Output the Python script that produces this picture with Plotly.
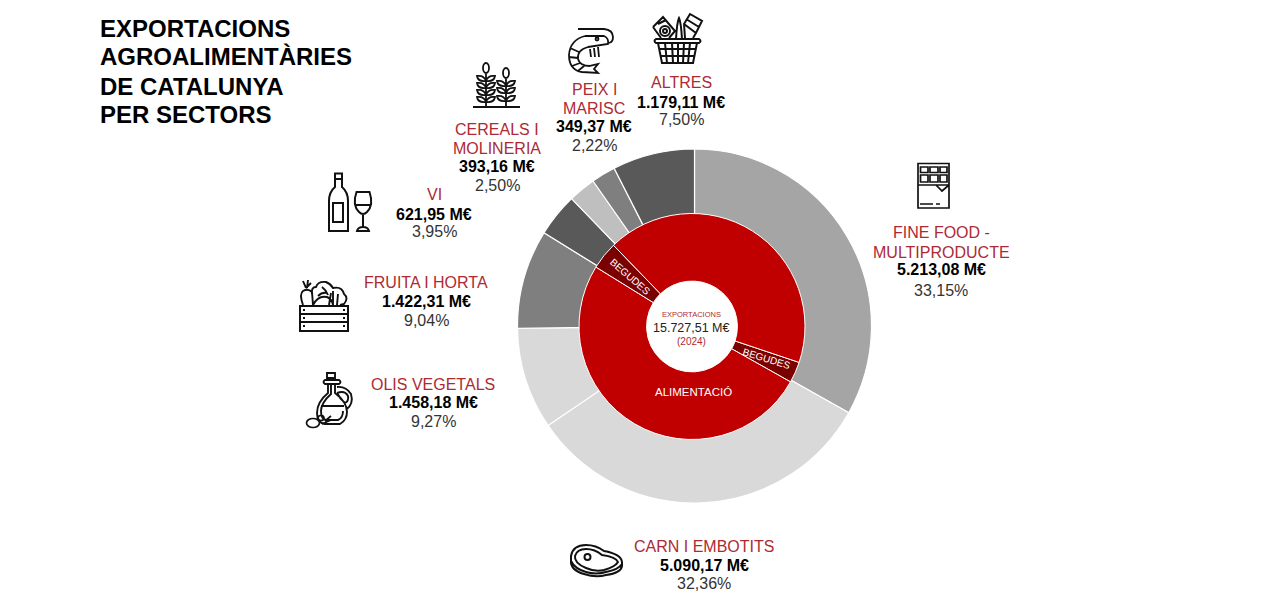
import re
import plotly.graph_objects as go

W, H = 1280, 595

# ---------- data ----------
sector_names = ["FINE FOOD - MULTIPRODUCTE", "CARN I EMBOTITS", "OLIS VEGETALS", "FRUITA I HORTA",
                "VI", "CEREALS I MOLINERIA", "PEIX I MARISC", "ALTRES"]
sector_values = [5213.08, 5090.17, 1458.18, 1422.31, 621.95, 393.16, 349.37, 1179.11]
sector_colors = ["#A5A5A5", "#D9D9D9", "#D9D9D9", "#7F7F7F", "#595959", "#BFBFBF", "#7F7F7F", "#595959"]

group_names = ["BEGUDES", "ALIMENTACIÓ", "BEGUDES", "ALIMENTACIÓ"]
group_values = [472, 7969, 622, 6665]
group_colors = ["#7B0000", "#C00000", "#7B0000", "#C00000"]
group_start_share = 0.3015

title_lines = ["EXPORTACIONS", "AGROALIMENTÀRIES", "DE CATALUNYA", "PER SECTORS"]

RED = "#AE2A33"
FONT = "Liberation Sans, Arial, sans-serif"


def px(x):
    return x / W


def py(y):
    return 1 - y / H


def domain(cx, cy, r):
    return dict(x=[px(cx - r), px(cx + r)], y=[py(cy + r), py(cy - r)])


fig = go.Figure()
fig.add_trace(go.Pie(
    labels=sector_names, values=sector_values, sort=False, direction="clockwise", rotation=0,
    hole=0.6, domain=domain(694.5, 326, 177), textinfo="none", showlegend=False,
    marker=dict(colors=sector_colors, line=dict(color="#FFFFFF", width=1.2)),
))
fig.add_trace(go.Pie(
    labels=[f"{n} {i}" for i, n in enumerate(group_names)], values=group_values, sort=False,
    direction="clockwise", rotation=group_start_share * 360, hole=0.402, domain=domain(692, 326.5, 113),
    textinfo="none", showlegend=False, text=group_names, hovertemplate="%{text}: %{value}<extra></extra>",
    marker=dict(colors=group_colors, line=dict(color="#FFFFFF", width=1)),
))

ann = []


def txt(x, y, s, size=16, color="#222222", bold=False, anchor="center", angle=0):
    ann.append(dict(xref="paper", yref="paper", x=px(x), y=py(y), text=f"<b>{s}</b>" if bold else s,
                    showarrow=False, xanchor=anchor, yanchor="middle", textangle=angle,
                    font=dict(family=FONT, size=size, color=color)))


for i, line in enumerate(title_lines):
    txt(98, 28 + i * 29, line, size=24, color="#000000", bold=True, anchor="left")

label_blocks = [
    (941, [233, 252, 270, 290], ["FINE FOOD -", "MULTIPRODUCTE"], "5.213,08 M€", "33,15%"),
    (704, [546, 565, 583], ["CARN I EMBOTITS"], "5.090,17 M€", "32,36%"),
    (433, [384, 402, 421], ["OLIS VEGETALS"], "1.458,18 M€", "9,27%"),
    (426, [282, 301, 320], ["FRUITA I HORTA"], "1.422,31 M€", "9,04%"),
    (434, [195, 214, 232], ["VI"], "621,95 M€", "3,95%"),
    (497, [129, 148, 166, 185], ["CEREALS I", "MOLINERIA"], "393,16 M€", "2,50%"),
    (594, [89, 108, 126, 145], ["PEIX I", "MARISC"], "349,37 M€", "2,22%"),
    (681, [83, 102, 120], ["ALTRES"], "1.179,11 M€", "7,50%"),
]
for x, ys, names, val, pct in label_blocks:
    for y, n in zip(ys, names):
        txt(x, y, n, color=RED)
    txt(x, ys[-2], val, color="#000000", bold=True)
    txt(x, ys[-1], pct, color="#333333")

txt(691, 314, "EXPORTACIONS", size=7.5, color=RED)
txt(691, 328, "15.727,51 M€", size=12.5, color="#222222")
txt(691, 341, "(2024)", size=10, color=RED)
txt(693, 392, "ALIMENTACIÓ", size=11.5, color="#FFFFFF")
txt(766, 358.5, "BEGUDES", size=10, color="#FFFFFF", angle=17)
txt(630, 276, "BEGUDES", size=10, color="#FFFFFF", angle=41)


# ---------- icons (decoration drawn in pixel space) ----------
def conv(path):
    out, is_x = [], True
    for tok in re.findall(r"[A-Za-z]|-?\d+\.?\d*", path):
        if tok.isalpha():
            out.append(tok)
            is_x = True
        else:
            out.append(f"{px(float(tok)):.5f}" if is_x else f"{py(float(tok)):.5f}")
            is_x = not is_x
    return " ".join(out)


shapes = []


def ink(path, w=2, fill=None):
    shapes.append(dict(type="path", xref="paper", yref="paper", path=conv(path),
                       line=dict(color="#111111", width=w),
                       fillcolor=fill if fill else "rgba(0,0,0,0)"))


def circ(cx, cy, rx, ry=None):
    ry = ry or rx
    k = 0.55
    return (f"M{cx-rx} {cy} C{cx-rx} {cy-k*ry} {cx-k*rx} {cy-ry} {cx} {cy-ry} "
            f"C{cx+k*rx} {cy-ry} {cx+rx} {cy-k*ry} {cx+rx} {cy} "
            f"C{cx+rx} {cy+k*ry} {cx+k*rx} {cy+ry} {cx} {cy+ry} "
            f"C{cx-k*rx} {cy+ry} {cx-rx} {cy+k*ry} {cx-rx} {cy} Z ")


def rect(a, b, c, d):
    return f"M{a} {b} L{c} {b} L{c} {d} L{a} {d} Z "


# wine
ink("M335 173.5 L342 173.5 L342 187 Q348 192 348 201 L348 231 L329 231 L329 201 Q329 192 335 187 Z M335 179 L342 179 "
    + rect(333, 203, 343, 222))
ink("M356.5 192 L369.5 192 Q374 205 367 212 Q363 216 359 212 Q352 205 356.5 192 Z M355 205 L371 205 "
    "M363 214 L363 227 M357 231 Q358 227 363 227 Q368 227 369 231 Z")

# grain
paths = "M473 107 L520 107 "
for sx, top, rows in [(486, 72, [78, 85, 92, 99]), (506, 77, [83, 90, 98])]:
    paths += f"M{sx} {top} L{sx} 107 "
    paths += circ(sx, top - 4, 3, 5)
    for y in rows:
        for s in (-1, 1):
            paths += f"M{sx} {y+3} Q{sx+s*2} {y-3} {sx+s*9} {y-2} Q{sx+s*8} {y+4} {sx} {y+3} Z "
ink(paths, 1.8)

# shrimp
ink("M578 29 L604 29 Q613 30 613 37 Q613 42 609 43 "
    "M585 36 L604 36 Q609 38 608 44 L588 47 "
    "M585 36 Q570 40 569 55 Q569 70 582 72 L598 73 L594 69 L598 64 L590 66 "
    "M588 47 Q577 50 578 59 Q580 66 590 66 "
    "M570 48 L579 52 M569 57 L578 58 M572 66 L580 63 M578 71 L584 66 "
    "M590 49 L591 57 M594 48 L595 57 M598 47 L599 57 " + circ(597, 39, 1.5), 1.8)

# basket
b = "M656 39 L699 39 Q702 41 699 43 L656 43 Q653 41 656 39 Z M658 43 L662 63 L693 63 L697 43 Z "
for x0, x1 in [(665, 667), (672, 673), (678, 678), (684, 683), (690, 688)]:
    b += f"M{x0} 43 L{x1} 63 "
for y, a, c in [(49, 659, 696), (56, 660.5, 694.5)]:
    b += f"M{a} {y} L{c} {y} "
ink(b)
ink("M653 27 L663 17 L675 31 L669 38 M653 27 L661 38 M658 24 L666 20 "
    "M676 39 Q677 22 679 18 Q681 22 682 39 "
    "M684 24 L690 14 L702 21 L696 33 Z M686 19 L699 27 M684 24 L685 38 M696 33 L693 38 "
    + circ(665, 31, 5) + circ(665, 31, 2))

# veg crate
ink(rect(300, 306, 348, 331) + "M300 314 L348 314 M300 322 L348 322 "
    "M303 310 L305 310 M343 310 L345 310 M303 318 L305 318 M343 318 L345 318 M303 326 L305 326 M343 326 L345 326", 2)
ink("M303 305 Q299 294 303 291 Q308 288 312 292 L313 305 M306 288 L303 281 M307 288 L308 280 M306 288 L311 283 "
    "M312 294 Q311 287 316 287 Q318 281 326 282 Q331 284 333 288 Q342 286 344 294 Q349 298 344 304 L340 305 "
    "M313 305 Q318 295 327 297 Q332 299 333 305 M333 305 L333 291 M329 305 L331 293 M337 305 L338 294 "
    "M318 296 Q322 292 327 293 M322 287 Q326 290 328 295", 1.9)

# oil
ink(rect(327, 373, 335, 378) + "M325 380 L339 380 Q342 382 339 384 L325 384 Q322 382 325 380 Z "
    "M328 384 L328 393 Q317 402 317 413 Q317 423 325 424 L340 424 Q347 420 347 412 Q347 402 335 393 L335 384 "
    "M331 384 L331 394 Q321 403 321 411 Q321 419 326 420 L338 420 Q343 418 343 411 M321 406 L344 406 "
    "M337 387 Q346 386 351 394 Q354 404 346 410 M337 393 Q345 390 348 396 Q349 401 345 403 Q340 399 337 393 ", 1.9)
ink(circ(313, 423, 6.5, 4.5) + circ(321, 418, 3, 2.5) + "M325 421 L331 416 M322 424 L331 420", 1.7)

# meat
ink("M571 556 Q573 545 586 545 Q596 545 604 551 Q621 554 622 562 L622 566 Q621 573 606 575 Q596 578 584 574 Q570 570 571 560 Z "
    "M575 556 Q577 549 586 549 Q595 549 602 555 Q616 557 618 562 Q615 567 604 570 Q595 572 586 568 Q574 563 575 556 Z "
    "M571 561 Q575 569 586 572 Q596 575 606 572 Q618 570 622 564 "
    + circ(587.5, 557, 3))

# chocolate
ch = rect(918, 163.5, 949, 208) + "M918 185 L949 185 M936 185 L942 191 L949 185 M920 204 L933 204 M936 204 L940 204 "
for xa, xb in [(920.5, 928), (930, 938), (940, 947)]:
    for ya, yb in [(167, 172.5), (175, 182)]:
        ch += rect(xa, ya, xb, yb)
ink(ch, 1.7)

fig.update_layout(width=W, height=H, margin=dict(l=0, r=0, t=0, b=0), paper_bgcolor="#FFFFFF",
                  plot_bgcolor="#FFFFFF", annotations=ann, shapes=shapes, showlegend=False,
                  font=dict(family=FONT))
fig.write_html("out.html", config=dict(displayModeBar=False), post_script="document.body.style.margin='0';")
